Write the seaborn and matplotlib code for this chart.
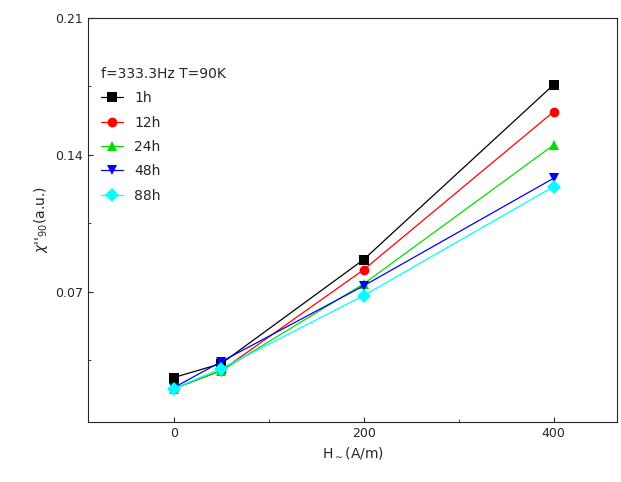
import matplotlib
matplotlib.use("Agg")
import matplotlib.pyplot as plt
import seaborn as sns
import pandas as pd

h = [0, 50, 200, 400]
labels = ["1h", "12h", "24h", "48h", "88h"]
values = {
    "1h": [0.0261, 0.0332, 0.0864, 0.1758],
    "12h": [0.0204, 0.0296, 0.0812, 0.1620],
    "24h": [0.0204, 0.0296, 0.0740, 0.1450],
    "48h": [0.0209, 0.0342, 0.0730, 0.1280],
    "88h": [0.0204, 0.0307, 0.0680, 0.1237],
}
colors = ["black", "red", "#00e000", "blue", "cyan"]
markers = ["s", "o", "^", "v", "D"]

rows = []
for lab in labels:
    for x, y in zip(h, values[lab]):
        rows.append({"H": x, "chi": y, "t": lab})
df = pd.DataFrame(rows)

sns.set_style("ticks")
fig = plt.figure(figsize=(6.21, 4.82), dpi=100)
ax = fig.add_axes([0.142, 0.125, 0.852, 0.838])
sns.lineplot(data=df, x="H", y="chi", hue="t", style="t", palette=colors,
             markers=markers, dashes=False, markersize=7, linewidth=0.9,
             markeredgewidth=0, ax=ax)
ax.set_xlim(-90, 467)
ax.set_ylim(0.0035, 0.21)
ax.set_xticks([0, 200, 400])
ax.set_xticks([100, 300], minor=True)
ax.set_yticks([0.07, 0.14, 0.21])
ax.set_yticklabels(["0.07", "0.14", "0.21"])
ax.set_yticks([0.035, 0.105, 0.175], minor=True)
ax.tick_params(direction="in", labelsize=9)
ax.tick_params(which="minor", direction="in")
ax.set_xlabel(r"H$_{\sim}$(A/m)", fontsize=10)
ax.set_ylabel(r"$\chi$''$_{90}$(a.u.)", fontsize=10)
leg = ax.legend(title="f=333.3Hz T=90K", loc="upper left", frameon=False,
                fontsize=10, title_fontsize=10, bbox_to_anchor=(0.0, 0.91),
                labelspacing=0.75, handlelength=1.6)
leg._legend_box.align = "left"
fig.savefig("out.png", dpi=100)
